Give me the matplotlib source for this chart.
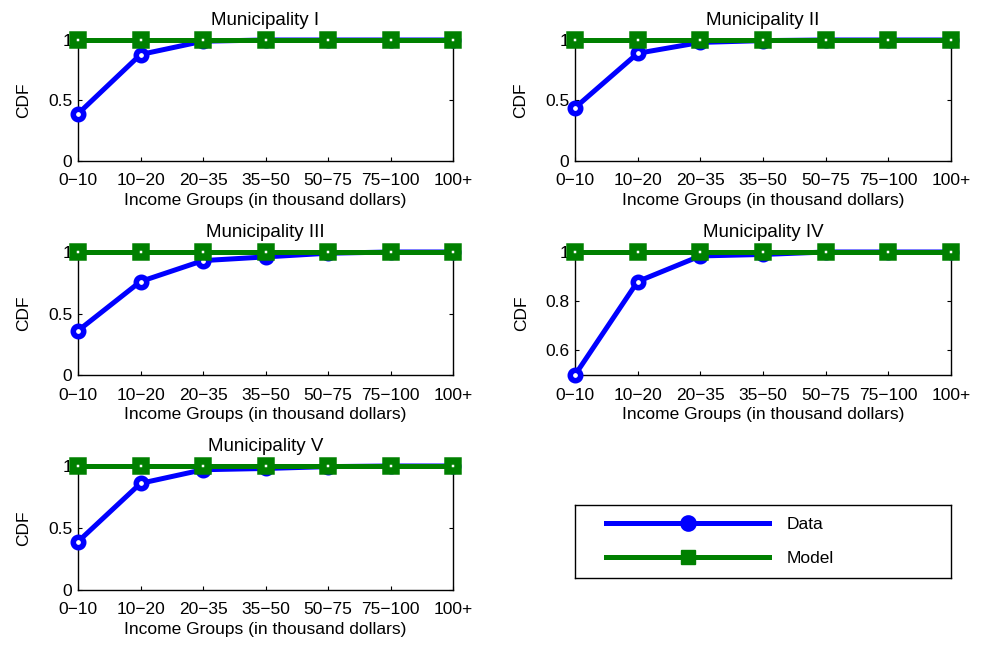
import matplotlib
matplotlib.use("Agg")
import matplotlib.pyplot as plt
import numpy as np

plt.rcParams['font.family'] = ['Liberation Sans', 'DejaVu Sans']

categories = ['0\u221210', '10\u221220', '20\u221235', '35\u221250', '50\u221275', '75\u2212100', '100+']
titles = ['Municipality I', 'Municipality II', 'Municipality III', 'Municipality IV', 'Municipality V']
data_I = [0.39, 0.88, 0.99, 1.0, 1.0, 1.0, 1.0]
data_II = [0.44, 0.89, 0.98, 0.995, 1.0, 1.0, 1.0]
data_III = [0.36, 0.76, 0.93, 0.96, 0.99, 1.0, 1.0]
data_IV = [0.5, 0.88, 0.984, 0.99, 1.0, 1.0, 1.0]
data_V = [0.39, 0.86, 0.97, 0.98, 0.995, 1.0, 1.0]
model_all = [1.0, 1.0, 1.0, 1.0, 1.0, 1.0, 1.0]
data_sets = [data_I, data_II, data_III, data_IV, data_V]
ylims = [(0, 1), (0, 1), (0, 1), (0.5, 1), (0, 1)]
yticks = [[0, 0.5, 1], [0, 0.5, 1], [0, 0.5, 1], [0.6, 0.8, 1], [0, 0.5, 1]]
yticklabels = [['0', '0.5', '1'], ['0', '0.5', '1'], ['0', '0.5', '1'], ['0.6', '0.8', '1'], ['0', '0.5', '1']]

W, H = 981, 645
fig = plt.figure(figsize=(W / 100, H / 100), dpi=100)

# pixel boxes (left, top, right, bottom)
boxes = [(78, 40, 453, 161), (575, 40, 951, 161),
         (78, 252, 453, 375), (575, 252, 951, 375),
         (78, 466, 453, 590)]

blue = '#0000ff'
green = '#008000'
x = np.arange(len(categories))
fs = 12.5

for i, (l, t, r, b) in enumerate(boxes):
    ax = fig.add_axes([l / W, (H - b) / H, (r - l) / W, (b - t) / H])
    ax.plot(x, data_sets[i], color=blue, lw=3.6, marker='o', ms=7.5, mew=4,
            mfc='white', mec=blue, clip_on=False, zorder=3)
    ax.plot(x, model_all, color=green, lw=3.6, marker='s', ms=7.5, mew=5.4,
            mfc='white', mec=green, clip_on=False, zorder=4)
    ax.set_xlim(0, len(categories) - 1)
    ax.set_ylim(*ylims[i])
    ax.set_xticks(x)
    ax.set_xticklabels(categories, fontsize=fs)
    ax.set_yticks(yticks[i])
    ax.set_yticklabels(yticklabels[i], fontsize=fs)
    ax.tick_params(axis='x', direction='in', top=True, length=3, width=0.8, pad=9)
    ax.tick_params(axis='y', direction='in', right=True, length=3, width=0.8, pad=4)
    for s in ax.spines.values():
        s.set_linewidth(1.0)
    ax.set_title(titles[i], fontsize=13.5, pad=11)
    ax.set_ylabel('CDF', fontsize=fs, labelpad=12)
    ax.set_xlabel('Income Groups (in thousand dollars)', fontsize=fs, labelpad=3)

# legend box
lax = fig.add_axes([575 / W, (H - 578) / H, (951 - 575) / W, (578 - 505) / H])
lax.set_xticks([])
lax.set_yticks([])
for s in lax.spines.values():
    s.set_linewidth(1.0)
lax.patch.set_alpha(0)
h1, = lax.plot([], [], color=blue, lw=3.6, marker='o', ms=9, mew=3, mfc=blue, mec=blue)
h2, = lax.plot([], [], color=green, lw=3.6, marker='s', ms=10, mfc=green, mec=green)
leg = lax.legend([h1, h2], ['Data', 'Model'], loc='center left', bbox_to_anchor=(31 / 376, 0.5),
                 fontsize=fs, handlelength=9.4, handletextpad=1.0,
                 borderaxespad=0, borderpad=0, frameon=False, labelspacing=1.05)

fig.savefig('out.png', dpi=100)
